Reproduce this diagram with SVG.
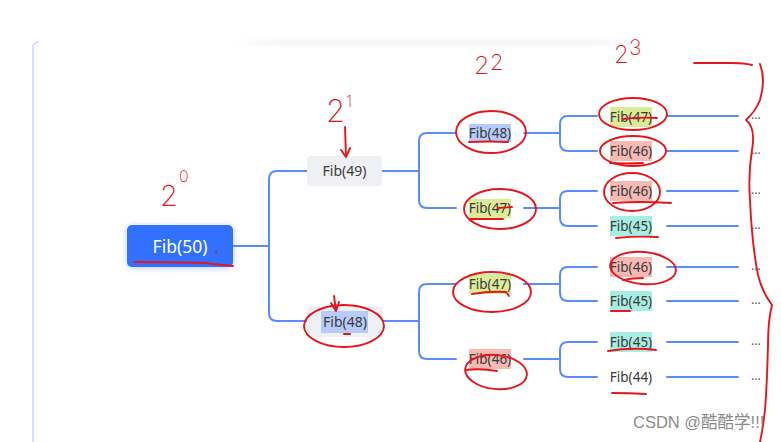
<svg xmlns="http://www.w3.org/2000/svg" width="781" height="442" viewBox="0 0 781 442">
<style>
.conn{fill:none;stroke:#5a8dfb;stroke-width:2;stroke-linecap:round}
.lbl{font-family:"Noto Sans","Liberation Sans",sans-serif;font-size:13.5px;fill:#3a3a3a}
.l1{font-size:14px}
.box{fill:#eff0f3}
.hb{fill:#b6cbfa}.hg{fill:#dceb99}.hp{fill:#f8b9b5}.hc{fill:#a7ede3}
.dots{font-family:"Noto Sans","Liberation Sans",sans-serif;font-size:12px;fill:#555}
.red{fill:none;stroke:#e5161c;stroke-width:1.9;stroke-linecap:round;stroke-linejoin:round}
.hand{font-family:Inter,"Liberation Sans",sans-serif;font-weight:200;fill:#e5161c}
</style>
<defs>
<filter id="glow" x="-30%" y="-50%" width="160%" height="200%">
<feDropShadow dx="0" dy="1" stdDeviation="3" flood-color="#3370ff" flood-opacity="0.35"/>
</filter>
<linearGradient id="topShade" x1="0" y1="0" x2="0" y2="1">
<stop offset="0" stop-color="#ffffff"/>
<stop offset="0.6" stop-color="#f4f5f6"/>
<stop offset="1" stop-color="#ffffff"/>
</linearGradient>
<linearGradient id="topShadeH" x1="0" y1="0" x2="1" y2="0">
<stop offset="0" stop-color="#fff" stop-opacity="1"/>
<stop offset="0.1" stop-color="#fff" stop-opacity="0"/>
<stop offset="0.85" stop-color="#fff" stop-opacity="0"/>
<stop offset="1" stop-color="#fff" stop-opacity="1"/>
</linearGradient>
</defs>
<rect width="781" height="442" fill="#ffffff"/>
<rect x="235" y="36" width="420" height="12" fill="url(#topShade)"/>
<rect x="235" y="36" width="420" height="12" fill="url(#topShadeH)"/>
<path d="M33,442 V48 Q33,42 39,42" fill="none" stroke="#c8d8fb" stroke-width="1.5"/>

<g id="connectors">
<path class="conn" d="M233,246 H269"/>
<path class="conn" d="M307,171 H277 Q269,171 269,179 V313 Q269,321 277,321 H307"/>
<path class="conn" d="M382,171 H419"/>
<path class="conn" d="M456,133 H427 Q419,133 419,141 V200 Q419,208 427,208 H456"/>
<path class="conn" d="M383,321 H419"/>
<path class="conn" d="M456,284 H427 Q419,284 419,292 V351 Q419,359 427,359 H456"/>
<path class="conn" d="M524,133 H560"/>
<path class="conn" d="M597,116 H568 Q560,116 560,124 V143 Q560,151 568,151 H597"/>
<path class="conn" d="M524,208 H560"/>
<path class="conn" d="M597,191 H568 Q560,191 560,199 V218 Q560,226 568,226 H597"/>
<path class="conn" d="M524,284 H560"/>
<path class="conn" d="M597,267 H568 Q560,267 560,275 V293 Q560,301 568,301 H597"/>
<path class="conn" d="M524,359 H560"/>
<path class="conn" d="M597,342 H568 Q560,342 560,350 V369 Q560,377 568,377 H597"/>
<path class="conn" d="M667,116 H738 M667,151 H738 M667,191 H738 M667,226 H738 M667,267 H738 M667,301 H738 M667,342 H738 M667,377 H738"/>
</g>

<g id="root">
<rect x="127" y="225" width="106" height="42" rx="5" fill="#3370ff" filter="url(#glow)"/>
<text x="180" y="252.5" text-anchor="middle" font-family="Noto Sans,Liberation Sans,sans-serif" font-size="17.5" fill="#ffffff">Fib(50)</text>
</g>

<g id="n-49">
<rect class="box" x="307" y="156" width="75" height="30" rx="4"/>
<text class="lbl l1" x="344.5" y="176" text-anchor="middle">Fib(49)</text>
</g>
<g id="n-48a">
<rect class="box" x="307" y="307" width="76" height="30" rx="4"/>
<rect class="hb" x="321" y="311" width="47" height="22"/>
<text class="lbl l1" x="345" y="327" text-anchor="middle">Fib(48)</text>
</g>

<g id="n-48b">
<rect class="hb" x="469" y="124" width="42" height="18"/>
<text class="lbl" x="490" y="138" text-anchor="middle">Fib(48)</text>
</g>
<g id="n-47a">
<rect class="hg" x="469" y="199" width="42" height="19"/>
<text class="lbl" x="490" y="213" text-anchor="middle">Fib(47)</text>
</g>
<g id="n-47b">
<rect class="hg" x="469" y="274" width="42" height="20"/>
<text class="lbl" x="490" y="289" text-anchor="middle">Fib(47)</text>
</g>
<g id="n-46a">
<rect class="hp" x="469" y="349" width="42" height="20"/>
<text class="lbl" x="490" y="364" text-anchor="middle">Fib(46)</text>
</g>

<g id="n-47c">
<rect class="hg" x="610" y="107" width="42" height="20"/>
<text class="lbl" x="631" y="121.5" text-anchor="middle">Fib(47)</text>
</g>
<g id="n-46b">
<rect class="hp" x="610" y="141" width="42" height="20"/>
<text class="lbl" x="631" y="155.5" text-anchor="middle">Fib(46)</text>
</g>
<g id="n-46c">
<rect class="hp" x="610" y="181" width="42" height="20"/>
<text class="lbl" x="631" y="195.5" text-anchor="middle">Fib(46)</text>
</g>
<g id="n-45a">
<rect class="hc" x="610" y="216" width="42" height="20"/>
<text class="lbl" x="631" y="230.5" text-anchor="middle">Fib(45)</text>
</g>
<g id="n-46d">
<rect class="hp" x="610" y="257" width="42" height="20"/>
<text class="lbl" x="631" y="271.5" text-anchor="middle">Fib(46)</text>
</g>
<g id="n-45b">
<rect class="hc" x="610" y="291" width="42" height="20"/>
<text class="lbl" x="631" y="305.5" text-anchor="middle">Fib(45)</text>
</g>
<g id="n-45c">
<rect class="hc" x="610" y="332" width="42" height="20"/>
<text class="lbl" x="631" y="346.5" text-anchor="middle">Fib(45)</text>
</g>
<g id="n-44">
<text class="lbl" x="631" y="381.5" text-anchor="middle">Fib(44)</text>
</g>

<g id="ellipsis">
<text class="dots" x="751" y="119">...</text>
<text class="dots" x="751" y="154">...</text>
<text class="dots" x="751" y="194">...</text>
<text class="dots" x="751" y="229">...</text>
<text class="dots" x="751" y="270">...</text>
<text class="dots" x="751" y="304">...</text>
<text class="dots" x="751" y="345">...</text>
<text class="dots" x="751" y="380">...</text>
</g>

<g id="annotations">
<text class="hand" x="160" y="206" font-size="29">2</text>
<text class="hand" x="179" y="182" font-size="16">0</text>
<text class="hand" x="326" y="122" font-size="31">2</text>
<text class="hand" x="346" y="107" font-size="16">1</text>
<text class="hand" x="474" y="74" font-size="25">2</text>
<text class="hand" x="490" y="70" font-size="22">2</text>
<text class="hand" x="614" y="63" font-size="24">2</text>
<text class="hand" x="629" y="55" font-size="21">3</text>
<path class="red" d="M345,127 L346,157 M341,150 L346,157 L350,148"/>
<path class="red" d="M334,296 L336,311 M331,303 L336,311 L339,302"/>
<path class="red" d="M134,262 Q180,262 205,263 Q222,265 233,266"/>
<path class="red" d="M216,252 l0.5,0.5"/>
<ellipse class="red" cx="344" cy="326" rx="40" ry="21"/>
<path class="red" d="M344,334 H350"/>
<ellipse class="red" cx="491" cy="132" rx="35" ry="21"/>
<path class="red" d="M469,142 Q490,141 508,142"/>
<ellipse class="red" cx="500" cy="209" rx="36" ry="20"/>
<path class="red" d="M470,219 H503 M498,208 L512,207"/>
<ellipse class="red" cx="492" cy="292" rx="39" ry="20"/>
<path class="red" d="M472,294 Q490,291 506,292 L509,296"/>
<ellipse class="red" cx="496" cy="372" rx="31" ry="17" transform="rotate(6 496 372)"/>
<path class="red" d="M466,370 Q480,368 497,371"/>
<ellipse class="red" cx="633" cy="114" rx="34" ry="16"/>
<path class="red" d="M623,119 Q640,117 657,118"/>
<ellipse class="red" cx="633" cy="151" rx="33" ry="15"/>
<path class="red" d="M610,163 Q625,164 643,163"/>
<ellipse class="red" cx="632" cy="192" rx="28" ry="19"/>
<path class="red" d="M613,203 Q640,201 671,203"/>
<path class="red" d="M616,238 Q636,236 658,237"/>
<ellipse class="red" cx="643" cy="268" rx="33" ry="16" transform="rotate(5 643 268)"/>
<path class="red" d="M623,280 Q632,278 643,278"/>
<path class="red" d="M611,311 H630"/>
<path class="red" d="M608,351 Q632,347 656,350"/>
<path class="red" d="M612,393 Q630,393 646,394"/>
<path class="red" d="M694,63 H733 Q744,63 752,65"/>
<path class="red" d="M760,64 Q766,80 760,100 Q755,112 746,120 Q756,128 752,150 Q748,175 750,200 Q752,245 758,275 Q762,292 772,305 Q768,320 768,345 Q767,385 765,410 Q763,428 760,442"/>
</g>

<text x="633" y="428" font-family="Liberation Sans,Noto Sans CJK SC,sans-serif" font-size="16.5" fill="#8c8c8c">CSDN @酷酷学!!!</text>
</svg>
